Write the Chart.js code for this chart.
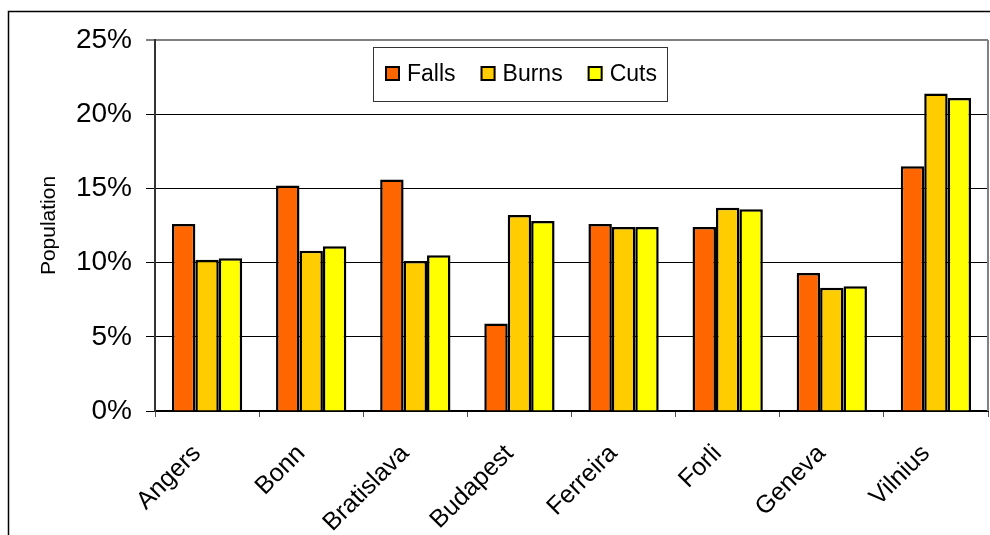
<!DOCTYPE html>
<html>
<head>
<meta charset="utf-8">
<script src="https://cdn.jsdelivr.net/npm/chart.js@4/dist/chart.umd.min.js"></script>
<style>
  html, body { margin: 0; padding: 0; background: #fff; }
  #c { display: block; }
</style>
</head>
<body>
<canvas id="c" width="990" height="535"></canvas>
<script>
const categories = ["Angers", "Bonn", "Bratislava", "Budapest", "Ferreira", "Forli", "Geneva", "Vilnius"];
const seriesNames = ["Falls", "Burns", "Cuts"];
const falls = [12.6, 15.2, 15.6, 5.9, 12.6, 12.4, 9.3, 16.5];
const burns = [10.2, 10.8, 10.1, 13.2, 12.4, 13.7, 8.3, 21.4];
const cuts  = [10.3, 11.1, 10.5, 12.8, 12.4, 13.6, 8.4, 21.1];
const yTicks = [0, 5, 10, 15, 20, 25];
const colors = ["#FF6600", "#FFCC00", "#FFFF00"];

const FONT = '"Liberation Sans", Arial, sans-serif';
Chart.defaults.font.family = FONT;
Chart.defaults.color = '#000';

const framePlugin = {
  id: 'frame',
  beforeDraw(chart) {
    const ctx = chart.ctx;
    ctx.save();
    ctx.fillStyle = '#fff';
    ctx.fillRect(0, 0, chart.width, chart.height);
    ctx.strokeStyle = '#000';
    ctx.lineWidth = 1.5;
    ctx.strokeRect(8.5, 11.5, 1200, 800);
    ctx.restore();
  },
  afterDraw(chart) {
    const ctx = chart.ctx;
    const a = chart.chartArea;
    ctx.save();
    ctx.strokeStyle = '#808080';
    ctx.lineWidth = 2;
    ctx.beginPath();
    ctx.moveTo(a.right, a.top);
    ctx.lineTo(a.right, a.bottom);
    ctx.stroke();
    const bx = 373, by = 47, bw = 294, bh = 54;
    ctx.fillStyle = '#fff';
    ctx.fillRect(bx, by, bw, bh);
    ctx.strokeStyle = '#333';
    ctx.lineWidth = 1;
    ctx.strokeRect(bx + 0.5, by + 0.5, bw, bh);
    ctx.font = '23px ' + FONT;
    ctx.textBaseline = 'middle';
    ctx.textAlign = 'left';
    const cy = by + bh / 2;
    let x = 385;
    chart.data.datasets.forEach((ds) => {
      ctx.fillStyle = ds.backgroundColor;
      ctx.fillRect(x, cy - 8, 15, 15);
      ctx.strokeStyle = '#000';
      ctx.lineWidth = 2;
      ctx.strokeRect(x + 1, cy - 7, 13, 13);
      ctx.fillStyle = '#000';
      ctx.fillText(ds.label, x + 22, cy + 1);
      x += 22 + ctx.measureText(ds.label).width + 25;
    });
    ctx.restore();
  }
};

const seriesData = [falls, burns, cuts];

new Chart(document.getElementById('c'), {
  type: 'bar',
  data: {
    labels: categories,
    datasets: seriesNames.map((name, i) => ({
      label: name,
      data: seriesData[i],
      backgroundColor: colors[i],
      borderColor: '#000',
      borderWidth: 2.5,
      barPercentage: 1.0,
      categoryPercentage: 0.675
    }))
  },
  options: {
    responsive: false,
    animation: false,
    devicePixelRatio: 1,
    layout: { padding: { left: 0, top: 40, right: 2, bottom: 0 } },
    plugins: {
      legend: { display: false },
      tooltip: { enabled: false }
    },
    scales: {
      x: {
        type: 'category',
        offset: true,
        afterFit(scale) { scale.height = 124; },
        grid: {
          offset: true,
          drawOnChartArea: false,
          drawTicks: true,
          tickLength: 6,
          color: '#555',
          lineWidth: 1
        },
        border: { display: true, color: '#000', width: 2 },
        ticks: {
          autoSkip: false,
          maxRotation: 45,
          minRotation: 45,
          padding: 22,
          labelOffset: -10,
          font: { size: 25 },
          color: '#000'
        }
      },
      y: {
        min: 0,
        max: 25,
        afterFit(scale) { scale.width = 155; },
        afterBuildTicks(scale) { scale.ticks = yTicks.map(v => ({ value: v })); },
        grid: {
          color: (c) => (c.tick && c.tick.value === 25) ? '#808080' : '#000',
          lineWidth: (c) => (c.tick && c.tick.value === 25) ? 2 : 1,
          tickLength: 9,
          drawTicks: true
        },
        border: { display: true, color: '#333', width: 2 },
        ticks: {
          padding: 14,
          font: { size: 28 },
          color: '#000',
          callback: (v) => v + '%'
        },
        title: {
          display: true,
          text: 'Population',
          font: { size: 21 },
          color: '#000',
          padding: { top: 37, bottom: 0 }
        }
      }
    }
  },
  plugins: [framePlugin]
});
</script>
</body>
</html>
